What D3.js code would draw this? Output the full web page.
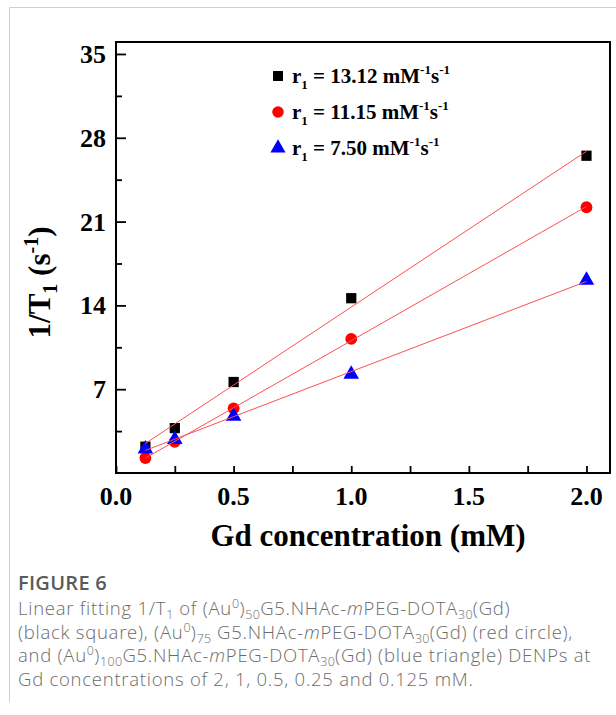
<!DOCTYPE html>
<html>
<head>
<meta charset="utf-8">
<script src="https://cdn.jsdelivr.net/npm/d3@7"></script>
<style>
body { margin: 0; background: #fff; }
svg { display: block; }
</style>
</head>
<body>
<script>
const conc = [0.125, 0.25, 0.5, 1, 2]
const blackSq = [2.2, 3.75, 7.6, 14.6, 26.5]
const redCirc = [1.25, 2.6, 5.4, 11.2, 22.2]
const blueTri = [2.0, 2.8, 4.75, 8.25, 16.1]
const relax = ["13.12", "11.15", "7.50"]
const xTicks = [0, 0.5, 1, 1.5, 2]
const yTicks = [7, 14, 21, 28, 35]

const width = 616, height = 715
const mL = 116, mT = 42, mR = 610, mB = 473

const svg = d3.select("body").append("svg")
    .attr("width", width)
    .attr("height", height)

// outer frame of the figure
svg.append("path")
    .attr("d", `M9.5,702 V7.5 H616`)
    .attr("fill", "none")
    .attr("stroke", "#cfcfcf")
    .attr("stroke-width", 1)

const x = d3.scaleLinear().domain([0, 2.1]).range([mL, mR])
const y = d3.scaleLinear().domain([0, 36]).range([mB, mT])

const serif = "'Liberation Serif', 'Times New Roman', serif"

// ticks (inward)
const gx = svg.append("g").attr("transform", `translate(0,${mB})`)
gx.call(d3.axisBottom(x).tickValues(d3.range(0, 2.01, 0.25)).tickSize(-7).tickFormat(""))
gx.select(".domain").remove()
gx.selectAll("line").attr("stroke", "#000").attr("stroke-width", 1.8)

const gy = svg.append("g").attr("transform", `translate(${mL},0)`)
gy.call(d3.axisLeft(y).tickValues(d3.range(3.5, 35.1, 3.5)).tickSize(-7).tickFormat(""))
gy.select(".domain").remove()
gy.selectAll("line").attr("stroke", "#000").attr("stroke-width", 1.8)
    .attr("x2", (d) => (d % 7 === 0 ? 10 : 6))

svg.append("rect")
    .attr("x", mL).attr("y", mT)
    .attr("width", mR - mL).attr("height", mB - mT)
    .attr("fill", "none").attr("stroke", "#000").attr("stroke-width", 2)

// tick labels
svg.selectAll(".xl").data(xTicks).join("text")
    .attr("x", (d) => x(d)).attr("y", 505)
    .attr("text-anchor", "middle")
    .attr("font-family", serif).attr("font-weight", "bold").attr("font-size", 26)
    .text((d) => d.toFixed(1))

svg.selectAll(".yl").data(yTicks).join("text")
    .attr("x", 106).attr("y", (d) => y(d) + 9)
    .attr("text-anchor", "end")
    .attr("font-family", serif).attr("font-weight", "bold").attr("font-size", 26)
    .text((d) => d)

// axis titles
svg.append("text")
    .attr("x", (mL + mR) / 2 + 5).attr("y", 546)
    .attr("text-anchor", "middle")
    .attr("font-family", serif).attr("font-weight", "bold").attr("font-size", 31)
    .text("Gd concentration (mM)")

const yt = svg.append("text")
    .attr("transform", `translate(50,${(mT + mB) / 2 + 25}) rotate(-90)`)
    .attr("text-anchor", "middle")
    .attr("font-family", serif).attr("font-weight", "bold").attr("font-size", 31)
yt.append("tspan").text("1/T")
yt.append("tspan").attr("font-size", 20).attr("dy", 7).text("1")
yt.append("tspan").attr("dy", -7).text(" (s")
yt.append("tspan").attr("font-size", 20).attr("dy", -12).text("-1")
yt.append("tspan").attr("dy", 12).text(")")

// data + fits
const series = [
    { vals: blackSq, color: "#000", shape: d3.symbolSquare, size: 105 },
    { vals: redCirc, color: "#ff0000", shape: d3.symbolCircle, size: 110 },
    { vals: blueTri, color: "#0000ff", shape: d3.symbolTriangle, size: 105 }
]

function fit(vals) {
    const mx = d3.mean(conc), my = d3.mean(vals)
    const sxy = d3.sum(conc, (c, i) => (c - mx) * (vals[i] - my))
    const sxx = d3.sum(conc, (c) => (c - mx) * (c - mx))
    const k = sxy / sxx
    return [k, my - k * mx]
}

series.forEach((s) => {
    svg.append("g").selectAll("path").data(conc).join("path")
        .attr("transform", (c, i) => `translate(${x(c)},${y(s.vals[i])})`)
        .attr("d", d3.symbol().type(s.shape).size(s.size))
        .attr("fill", s.color)
})

series.forEach((s) => {
    const [k, b] = fit(s.vals)
    const ends = [conc[0], conc[conc.length - 1]]
    svg.append("path")
        .datum(ends)
        .attr("d", d3.line().x((c) => x(c)).y((c) => y(k * c + b)))
        .attr("fill", "none")
        .attr("stroke", "#ff5050")
        .attr("stroke-width", 1)
})

// legend
series.forEach((s, i) => {
    const ly = 76 + i * 36
    svg.append("path")
        .attr("transform", `translate(278,${ly})`)
        .attr("d", d3.symbol().type(s.shape).size(s.size * 0.95))
        .attr("fill", s.color)
    const t = svg.append("text")
        .attr("x", 292).attr("y", ly + 7)
        .attr("font-family", serif).attr("font-weight", "bold").attr("font-size", 21)
    t.append("tspan").text("r")
    t.append("tspan").attr("font-size", 13).attr("dy", 6).text("1")
    t.append("tspan").attr("dy", -6).text(` = ${relax[i]} mM`)
    t.append("tspan").attr("font-size", 13).attr("dy", -9).text("-1")
    t.append("tspan").attr("dy", 9).text("s")
    t.append("tspan").attr("font-size", 13).attr("dy", -9).text("-1")
})

// caption
const sans = "'Open Sans', 'Noto Sans', sans-serif"
const cap = svg.append("g").attr("font-family", sans).attr("fill", "#6b6b6b")
cap.append("text").attr("x", 18).attr("y", 590)
    .attr("font-size", 20).attr("font-weight", 600).attr("fill", "#5a5a5a")
    .attr("letter-spacing", 0.3)
    .text("FIGURE 6")

const lines = [
    [["Linear fitting 1/T"], ["1", "sub"], [" of (Au"], ["0", "sup"], [")"], ["50", "sub"], ["G5.NHAc-"], ["m", "it"], ["PEG-DOTA"], ["30", "sub"], ["(Gd)"]],
    [["(black square), (Au"], ["0", "sup"], [")"], ["75", "sub"], [" G5.NHAc-"], ["m", "it"], ["PEG-DOTA"], ["30", "sub"], ["(Gd) (red circle),"]],
    [["and (Au"], ["0", "sup"], [")"], ["100", "sub"], ["G5.NHAc-"], ["m", "it"], ["PEG-DOTA"], ["30", "sub"], ["(Gd) (blue triangle) DENPs at"]],
    [["Gd concentrations of 2, 1, 0.5, 0.25 and 0.125 mM."]]
]
lines.forEach((ln, i) => {
    const t = cap.append("text").attr("x", 18).attr("y", 615 + i * 23.5)
        .attr("font-size", 18.5).attr("font-weight", 300)
        .attr("letter-spacing", 0.75)
    let shift = 0
    ln.forEach(([str, kind]) => {
        const sp = t.append("tspan").text(str)
        let want = 0
        if (kind === "sub") { sp.attr("font-size", 12.5).attr("letter-spacing", 0.3); want = 4 }
        if (kind === "sup") { sp.attr("font-size", 12.5).attr("letter-spacing", 0.3); want = -7 }
        if (kind === "it") sp.attr("font-style", "italic")
        sp.attr("dy", want - shift)
        shift = want
    })
})
</script>
</body>
</html>
